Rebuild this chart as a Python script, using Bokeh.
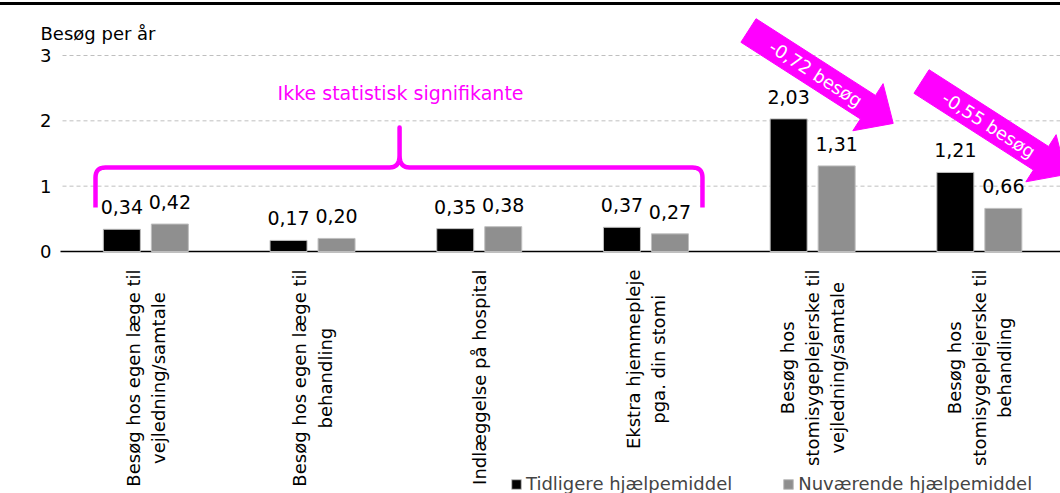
import math
from bokeh.plotting import figure
from bokeh.models import ColumnDataSource, Range1d, Legend, LegendItem
from bokeh.core.properties import value
from bokeh.embed import file_html
from bokeh.resources import INLINE

# ---------------- data ----------------
categories = [
    "Besøg hos egen læge til\nvejledning/samtale",
    "Besøg hos egen læge til\nbehandling",
    "Indlæggelse på hospital",
    "Ekstra hjemmepleje\npga. din stomi",
    "Besøg hos\nstomisygeplejerske til\nvejledning/samtale",
    "Besøg hos\nstomisygeplejerske til\nbehandling",
]
tidligere = [0.34, 0.17, 0.35, 0.37, 2.03, 1.21]
nuvaerende = [0.42, 0.20, 0.38, 0.27, 1.31, 0.66]
series_names = ["Tidligere hjælpemiddel", "Nuværende hjælpemiddel"]
y_ticks = [0, 1, 2, 3]
y_title = "Besøg per år"
brace_text = "Ikke statistisk signifikante"
arrow_texts = ["-0,72 besøg", "-0,55 besøg"]

# ---------------- layout ----------------
FONT = "DejaVu Sans"
MAGENTA = "#FF00FF"
W, H = 1060, 488            # canvas (below a 3px top rule)
ORIGIN_X = 62               # pixel column of x = 0
ORIGIN_Y = 246              # pixel row (inside canvas) of y = 0
GROUP_PX = 166.7
UNIT_PX = 65.33
X_START = -ORIGIN_X / GROUP_PX
X_END = (W - ORIGIN_X) / GROUP_PX
Y_START = -(H - ORIGIN_Y) / UNIT_PX
Y_END = ORIGIN_Y / UNIT_PX

def fmt(v):
    return f"{v:.2f}".replace(".", ",")

centers = [i + 0.5 for i in range(len(categories))]
off = 0.144
bw = 0.222
src = ColumnDataSource(dict(
    xa=[c - off for c in centers], xb=[c + off for c in centers],
    ya=tidligere, yb=nuvaerende,
    la=[fmt(v) for v in tidligere], lb=[fmt(v) for v in nuvaerende],
))

p = figure(width=W, height=H, x_range=Range1d(X_START, X_END), y_range=Range1d(Y_START, Y_END),
           output_backend="svg", toolbar_location=None,
           min_border_left=0, min_border_right=0, min_border_top=0, min_border_bottom=0,
           outline_line_color=None, background_fill_color="white", border_fill_color="white",
           styles={"margin-top": "2px", "border-top": "3px solid black"})
p.xaxis.visible = False
p.yaxis.visible = False
p.xgrid.visible = False
p.ygrid.visible = False

# gridlines and baseline (drawn from the tick values)
grid_y = y_ticks[1:]
p.segment(x0=[0] * len(grid_y), x1=[X_END] * len(grid_y), y0=grid_y, y1=grid_y,
          line_color="#bfbfbf", line_dash="4 3", line_width=1)
p.segment(x0=[-0.012], x1=[X_END], y0=[y_ticks[0]], y1=[y_ticks[0]], line_color="black", line_width=1.5)

# y tick labels
p.text(x=[-11 / GROUP_PX] * len(y_ticks), y=y_ticks, text=[str(t) for t in y_ticks],
       text_align="right", text_baseline="middle", text_font=value(FONT), text_font_size="18px",
       text_color="black")
# y title
p.text(x=[-22 / GROUP_PX], y=[(ORIGIN_Y - 28) / UNIT_PX], text=[y_title], text_align="left",
       text_baseline="middle", text_font=value(FONT), text_font_size="18px", text_color="black")

# category labels (rotated, lines centred, block hanging below the axis)
p.text(x=centers, y=[-18 / UNIT_PX] * len(centers), text=categories, angle=math.pi / 2,
       text_align="center", anchor="center_right", text_line_height=1.2,
       text_font=value(FONT), text_font_size="18px", text_color="black")

# bars
ra = p.vbar(x="xa", top="ya", width=bw, source=src, fill_color="black", line_color="#bfbfbf", line_width=1)
rb = p.vbar(x="xb", top="yb", width=bw, source=src, fill_color="#8f8f8f", line_color="#bfbfbf", line_width=1)

# value labels
for xcol, ycol, lcol in (("xa", "ya", "la"), ("xb", "yb", "lb")):
    p.text(x=xcol, y=ycol, text=lcol, source=src, text_align="center", text_baseline="alphabetic",
           y_offset=-22, text_font=value(FONT), text_font_size="19px", text_color="black")

# brace (annotation)
bx_l, bx_r, bx_m = 0.198, 3.839, 2.022
by_b, by_h, by_t = 0.673, 1.286, 1.898
r = 10
def quad(p0, c, p1, n=8):
    pts = []
    for k in range(1, n + 1):
        t = k / n
        pts.append(((1 - t) ** 2 * p0[0] + 2 * (1 - t) * t * c[0] + t * t * p1[0],
                    (1 - t) ** 2 * p0[1] + 2 * (1 - t) * t * c[1] + t * t * p1[1]))
    return pts
rx, ry = r / GROUP_PX, r / UNIT_PX
pts = [(bx_l, by_b), (bx_l, by_h - ry)]
pts += quad(pts[-1], (bx_l, by_h), (bx_l + rx, by_h))
pts.append((bx_m - rx, by_h))
pts += quad(pts[-1], (bx_m, by_h), (bx_m, by_h + ry * 1.2))
pts.append((bx_m, by_t))
pts.append((bx_m, by_h + ry * 1.2))
pts += quad(pts[-1], (bx_m, by_h), (bx_m + rx, by_h))
pts.append((bx_r - rx, by_h))
pts += quad(pts[-1], (bx_r, by_h), (bx_r, by_h - ry))
pts.append((bx_r, by_b))
p.line([q[0] for q in pts], [q[1] for q in pts], line_color=MAGENTA, line_width=4.5,
       line_join="round", line_cap="butt")
p.text(x=[2.028], y=[2.43], text=[brace_text], text_align="center", text_baseline="middle",
       text_font=value(FONT), text_font_size="19px", text_color=MAGENTA)

# arrows (annotation)
arrow_starts = [(4.115, 3.383), (5.153, 2.602)]
ang = math.radians(32.7)
d = (math.cos(ang), math.sin(ang))
nrm = (-math.sin(ang), math.cos(ang))
shape = [(0, -14), (142, -14), (142, -28), (172, 0), (142, 28), (142, 14), (0, 14)]
axs, ays, txs, tys = [], [], [], []
for (sx0, sy0) in arrow_starts:
    xs, ys = [], []
    for u, v in shape:
        sx = u * d[0] + v * nrm[0]
        sy = u * d[1] + v * nrm[1]
        xs.append(sx0 + sx / GROUP_PX)
        ys.append(sy0 - sy / UNIT_PX)
    axs.append(xs)
    ays.append(ys)
    txs.append(sx0 + 80 * d[0] / GROUP_PX)
    tys.append(sy0 - 80 * d[1] / UNIT_PX)
p.patches(axs, ays, fill_color=MAGENTA, line_color=MAGENTA, line_width=1)
p.text(x=txs, y=tys, text=arrow_texts, angle=-ang, text_align="center", text_baseline="middle",
       text_font=value(FONT), text_font_size="18px", text_color="white")

# legend
legend = Legend(items=[LegendItem(label=series_names[0], renderers=[ra]),
                       LegendItem(label=series_names[1], renderers=[rb])],
                orientation="horizontal", location=(510, -1),
                glyph_width=12, glyph_height=12, label_standoff=4, spacing=50,
                padding=0, margin=0, border_line_color=None, background_fill_alpha=0,
                label_text_font=FONT, label_text_font_size="18px", label_height=18)
p.add_layout(legend, "center")

open("out.html", "w").write(file_html(p, INLINE))
